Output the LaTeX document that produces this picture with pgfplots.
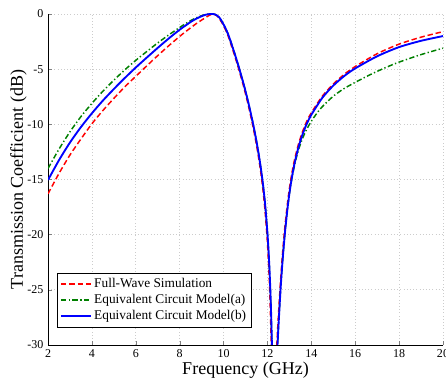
\documentclass[border=0pt]{standalone}
\usepackage{pgfplots}
\pgfplotsset{compat=1.18}
\usepackage{fontspec}
\setmainfont{Liberation Serif}
\definecolor{mred}{RGB}{255,0,0}
\definecolor{mgreen}{RGB}{0,128,0}
\definecolor{mblue}{RGB}{0,0,255}
\begin{document}
\begin{tikzpicture}
\begin{axis}[
  name=ax,
  scale only axis,
  width=296pt, height=248pt,
  xmin=2, xmax=20, ymin=-30, ymax=0,
  xtick={2,4,...,20}, ytick={-30,-25,...,0},
  axis x line*=bottom, axis y line*=left,
  tick align=inside,
  major tick length=3pt,
  grid=major,
  grid style={gray!40, dotted, line width=0.5pt},
  /pgf/number format/assume math mode=true,
  tick label style={font=\fontsize{9}{10}\selectfont},
  xlabel={Frequency (GHz)},
  ylabel={Transmission Coefficient (dB)},
  label style={font=\fontsize{13.5}{15}\selectfont},
  xlabel style={yshift=4pt},
  ylabel style={yshift=-6.5pt},
  legend style={at={(rel axis cs:0.023,0.054)}, anchor=south west,
    font=\fontsize{10}{11.5}\selectfont, draw=black,
    inner sep=2pt, row sep=-0.5pt},
  legend cell align=left,
  legend image code/.code={\draw[#1] (0cm,0cm) -- (0.78cm,0cm);},
]
\addplot[mred, line width=1.1pt, dash pattern=on 4pt off 2.2pt, smooth, tension=0.45] coordinates {
(2,-16.3)(2.5,-14.45)(3,-12.78)(3.5,-11.33)(4,-9.95)(4.5,-8.75)(5,-7.65)(5.5,-6.6)(6,-5.65)(6.5,-4.7)(7,-3.77)(7.5,-2.88)(8,-2.03)(8.25,-1.63)(8.5,-1.25)(8.75,-0.88)(9,-0.55)(9.2,-0.3)(9.35,-0.12)(9.5,-0.02)(9.62,-0.06)(9.77,-0.3)(9.97,-0.95)(10.07,-1.35)(10.17,-1.8)(10.27,-2.35)(10.37,-2.95)(10.47,-3.55)(10.57,-4.2)(10.67,-4.85)(10.77,-5.55)(10.87,-6.25)(10.97,-7.0)(11.07,-7.8)(11.17,-8.65)(11.27,-9.55)(11.37,-10.5)(11.47,-11.55)(11.57,-12.7)(11.67,-14.0)(11.77,-15.5)(11.87,-17.4)(11.97,-19.9)(12.02,-21.5)(12.07,-23.5)(12.12,-26.1)(12.17,-29.7)(12.22,-35)(12.27,-45)(12.32,-38)(12.37,-33.4)(12.42,-30.4)(12.47,-28.3)(12.58,-24.7)(12.68,-21.9)(12.78,-19.6)(12.88,-17.7)(12.98,-16.1)(13.08,-14.8)(13.18,-13.72)(13.28,-12.82)(13.38,-12.04)(13.48,-11.36)(13.58,-10.77)(13.73,-10.0)(13.88,-9.36)(14,-8.95)(14.5,-7.45)(15,-6.35)(15.5,-5.47)(16,-4.76)(17,-3.6)(18,-2.73)(19,-2.1)(20,-1.6)
};
\addlegendentry{Full-Wave Simulation}
\addplot[mgreen, line width=1.1pt, dash pattern=on 4pt off 1.8pt on 1pt off 1.8pt, smooth, tension=0.45] coordinates {
(2,-14.0)(2.5,-12.25)(3,-10.68)(3.5,-9.3)(4,-8.1)(4.5,-7.0)(5,-6.0)(5.5,-5.06)(6,-4.2)(6.5,-3.4)(7,-2.62)(7.5,-1.9)(8,-1.22)(8.25,-0.9)(8.5,-0.6)(8.75,-0.35)(9,-0.15)(9.2,-0.04)(9.4,0)(9.6,-0.03)(9.8,-0.3)(10.0,-0.95)(10.1,-1.35)(10.2,-1.8)(10.3,-2.35)(10.4,-2.95)(10.5,-3.55)(10.6,-4.2)(10.7,-4.85)(10.8,-5.55)(10.9,-6.25)(11.0,-7.0)(11.1,-7.8)(11.2,-8.65)(11.3,-9.55)(11.4,-10.5)(11.5,-11.55)(11.6,-12.7)(11.7,-14.0)(11.8,-15.5)(11.9,-17.4)(12.0,-19.9)(12.05,-21.5)(12.1,-23.5)(12.15,-26.1)(12.2,-29.7)(12.25,-35)(12.3,-45)(12.35,-38)(12.4,-33.4)(12.45,-30.4)(12.5,-28.36)(12.6,-24.86)(12.7,-22.06)(12.8,-19.76)(12.9,-17.86)(13.0,-16.3)(13.1,-15.05)(13.2,-14.02)(13.3,-13.15)(13.4,-12.42)(13.5,-11.8)(13.6,-11.27)(13.75,-10.6)(13.9,-10.05)(14,-9.72)(14.25,-9.0)(14.5,-8.4)(15,-7.45)(15.5,-6.75)(16,-6.2)(16.5,-5.68)(17,-5.2)(17.5,-4.76)(18,-4.36)(19,-3.68)(20,-3.1)
};
\addlegendentry{Equivalent Circuit Model(a)}
\addplot[mblue, line width=1.4pt, smooth, tension=0.45] coordinates {
(2,-15.05)(2.5,-13.25)(3,-11.65)(3.5,-10.25)(4,-9.0)(4.5,-7.85)(5,-6.8)(5.5,-5.8)(6,-4.85)(6.5,-3.95)(7,-3.07)(7.5,-2.22)(8,-1.42)(8.25,-1.07)(8.5,-0.72)(8.75,-0.43)(9,-0.2)(9.2,-0.06)(9.4,0)(9.6,-0.03)(9.8,-0.3)(10.0,-0.95)(10.1,-1.35)(10.2,-1.8)(10.3,-2.35)(10.4,-2.95)(10.5,-3.55)(10.6,-4.2)(10.7,-4.85)(10.8,-5.55)(10.9,-6.25)(11.0,-7.0)(11.1,-7.8)(11.2,-8.65)(11.3,-9.55)(11.4,-10.5)(11.5,-11.55)(11.6,-12.7)(11.7,-14.0)(11.8,-15.5)(11.9,-17.4)(12.0,-19.9)(12.05,-21.5)(12.1,-23.5)(12.15,-26.1)(12.2,-29.7)(12.25,-35)(12.3,-45)(12.35,-38)(12.4,-33.4)(12.45,-30.4)(12.5,-28.36)(12.6,-24.86)(12.7,-22.06)(12.8,-19.76)(12.9,-17.86)(13.0,-16.26)(13.1,-14.97)(13.2,-13.88)(13.3,-12.97)(13.4,-12.18)(13.5,-11.5)(13.6,-10.91)(13.75,-10.14)(13.9,-9.5)(14,-9.13)(14.5,-7.6)(15,-6.49)(15.5,-5.62)(16,-4.93)(17,-3.83)(18,-3.0)(19,-2.43)(20,-2.0)
};
\addlegendentry{Equivalent Circuit Model(b)}
\end{axis}
\pgfresetboundingbox
\path[use as bounding box] ([xshift=-36pt,yshift=-26.25pt]ax.south west) rectangle ([xshift=2.25pt,yshift=10.5pt]ax.north east);
\end{tikzpicture}
\end{document}
